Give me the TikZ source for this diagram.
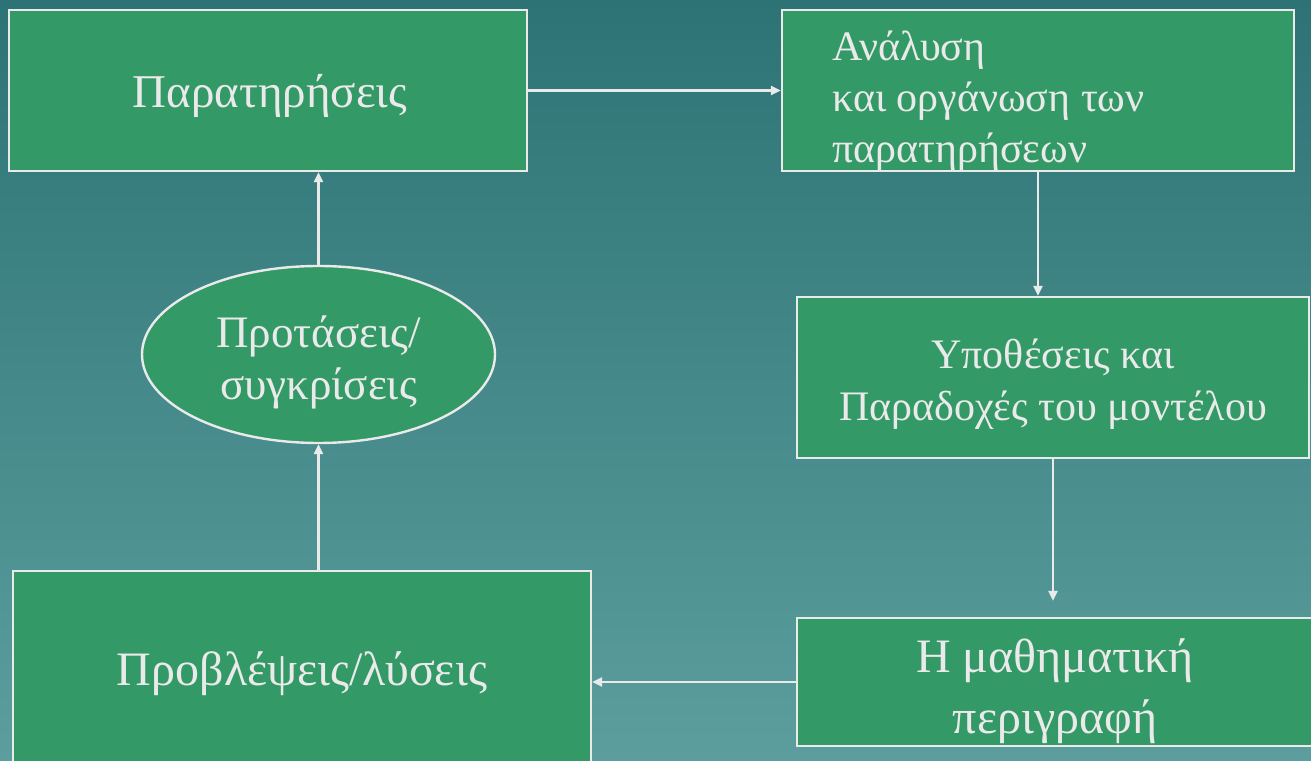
\documentclass[tikz,border=0pt]{standalone}
\usepackage{fontspec}
\setmainfont{Liberation Serif}
\usepackage{xcolor}
\usetikzlibrary{shapes.geometric, arrows.meta, positioning, calc}

\definecolor{bgtop}{RGB}{45,115,117}
\definecolor{bgbot}{RGB}{92,158,158}
\definecolor{boxgreen}{RGB}{51,153,102}
\definecolor{edgewhite}{RGB}{234,234,234}

\begin{document}
\begin{tikzpicture}[
    x=1pt, y=1pt,
    every node/.style={text=edgewhite},
    block/.style={rectangle, draw=edgewhite, line width=2.4pt, fill=boxgreen, inner sep=0pt},
    oval/.style={ellipse, draw=edgewhite, line width=2.4pt, fill=boxgreen, inner sep=0pt},
    txt/.style={align=center, inner sep=0pt},
    arrow/.style={-{Triangle[length=10pt, width=9pt]}, line width=2.4pt, draw=edgewhite}
]

% background
\shade[top color=bgtop, bottom color=bgbot] (0,0) rectangle (1311,760);
\useasboundingbox (0,0) rectangle (1311,760);

% boxes
\node[block, minimum width=518, minimum height=161] (obs) at (268,669.5) {};
\node[block, minimum width=512, minimum height=161] (anal) at (1038,669.5) {};
\node[block, minimum width=512, minimum height=161] (hyp) at (1053,382.5) {};
\node[block, minimum width=516, minimum height=128] (math) at (1055,78) {};
\node[block, minimum width=578, minimum height=198] (pred) at (302,90) {};
\node[oval, minimum width=353, minimum height=177] (prop) at (318.5,405.5) {};

% texts
\node[txt, anchor=base, font=\fontsize{47}{56}\selectfont] (obstxt) at (270,652) {Παρατηρήσεις};
\node[txt, align=left, anchor=north west, font=\fontsize{42}{51}\selectfont] (analtxt) at (832,729) {Ανάλυση\\και οργάνωση των\\παρατηρήσεων};
\node[txt, anchor=north, font=\fontsize{42}{52}\selectfont] (hyptxt) at (1053,421.5) {Υποθέσεις και\\Παραδοχές του μοντέλου};
\node[txt, anchor=north, font=\fontsize{48}{61}\selectfont] (mathtxt) at (1055,121.5) {Η μαθηματική\\περιγραφή};
\node[txt, anchor=base, font=\fontsize{48}{58}\selectfont] (predtxt) at (302,74) {Προβλέψεις/λύσεις};
\node[txt, anchor=north, font=\fontsize{45}{52}\selectfont] (proptxt) at (318.5,444.5) {Προτάσεις/\\συγκρίσεις};

% connectors
\draw[arrow] (obs) -- (anal);
\draw[arrow] (anal.south) -- (anal.south |- hyp.north);
\draw[arrow, shorten >=16pt] (hyp.south) -- (hyp.south |- math.north);
\draw[arrow] (math.west) -- (math.west -| pred.east);
\draw[arrow] (prop.south |- pred.north) -- (prop.south);
\draw[arrow] (prop.north) -- (prop.north |- obs.south);

\end{tikzpicture}
\end{document}
